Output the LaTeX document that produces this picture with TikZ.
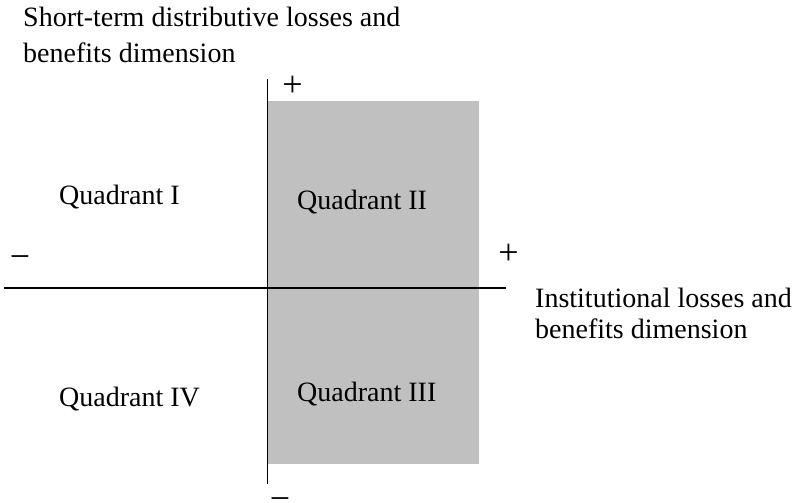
\documentclass[tikz,border=0pt]{standalone}
\usepackage{fontspec}
\setmainfont{Liberation Serif}
\usepackage{xcolor}
\usepackage{tikz}
\usetikzlibrary{positioning}
\definecolor{quadgray}{HTML}{C0C0C0}

\begin{document}
\begin{tikzpicture}[x=1pt, y=-1pt, axis/.style={line width=1.5pt}, lbl/.style={inner sep=0pt, anchor=base west, align=left, font=\fontsize{28}{34}\selectfont}, sign/.style={inner sep=0pt, anchor=base, font=\fontsize{36}{40}\selectfont}]
\useasboundingbox (0,0) rectangle (804,503);
\coordinate (o) at (267.5,288);
\coordinate (top) at (267.5,79);
\coordinate (bot) at (267.5,484);
\coordinate (lft) at (4,288);
\coordinate (rgt) at (506,288);
\fill[quadgray] (268,101) rectangle (479,464);
\draw[axis] (lft) -- (rgt);
\draw[axis] (top) -- (bot);
\node[sign] (ptop) at (292.5,97) {+};
\node[sign] (prgt) at (508.5,264) {+};
\node[sign] (mlft) at (20,268) {−};
\node[sign] (mbot) at (280,510) {−};
\node[lbl, font=\fontsize{28}{36}\selectfont] (yname) at (23,63) {Short-term distributive losses and\\benefits dimension};
\node[lbl, font=\fontsize{28}{31}\selectfont] (xname) at (535,338) {Institutional losses and\\benefits dimension};
\node[lbl] (q1) at (59,204) {Quadrant I};
\node[lbl] (q2) at (297,209) {Quadrant II};
\node[lbl] (q3) at (297,401) {Quadrant III};
\node[lbl] (q4) at (59,406) {Quadrant IV};
\end{tikzpicture}
\end{document}
